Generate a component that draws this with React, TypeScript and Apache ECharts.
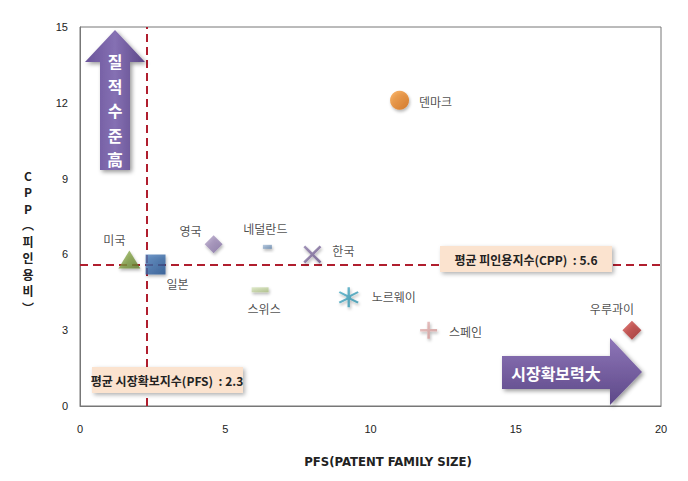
import React, { useEffect, useRef } from "react";
import * as echarts from "echarts";

const countries = ["미국", "일본", "영국", "네덜란드", "스위스", "한국", "노르웨이", "스페인", "우루과이", "덴마크"];
const pfs = [1.7, 2.6, 4.6, 6.45, 6.2, 8.0, 9.25, 12.0, 19.0, 11.0];
const cpp = [5.8, 5.6, 6.4, 6.3, 4.6, 6.0, 4.3, 3.0, 3.0, 12.1];
const meanPFS = 2.3;
const meanCPP = 5.6;
const xTicks = [0, 5, 10, 15, 20];
const yTicks = [0, 3, 6, 9, 12, 15];

const PATH_X = "path://M0,2 L2,0 L10,8 L18,0 L20,2 L12,10 L20,18 L18,20 L10,12 L2,20 L0,18 L8,10 Z";
const PATH_AST = "path://M9,0 L11,0 L11,7.6 L17.5,3.8 L18.5,5.5 L12,9.3 L12,10.7 L18.5,14.5 L17.5,16.2 L11,12.4 L11,20 L9,20 L9,12.4 L2.5,16.2 L1.5,14.5 L8,10.7 L8,9.3 L1.5,5.5 L2.5,3.8 L9,7.6 Z";
const PATH_PLUS = "path://M8.5,0 L11.5,0 L11.5,8.5 L20,8.5 L20,11.5 L11.5,11.5 L11.5,20 L8.5,20 L8.5,11.5 L0,11.5 L0,8.5 L8.5,8.5 Z";

const styles: any[] = [
  { symbol: "triangle", size: [22, 18], color: ["#9BBB59", "#5E7A2A"], off: [-15, -20] },
  { symbol: "rect", size: [20, 20], color: ["#4F81BD", "#1F4E8C"], off: [22, 19] },
  { symbol: "diamond", size: [18, 18], color: ["#B3A2C7", "#7E6A9E"], off: [-23, -14] },
  { symbol: "rect", size: [9, 4], color: ["#A6BDD7", "#5E7FA6"], off: [-2, -18] },
  { symbol: "rect", size: [17, 5], color: ["#D7E4BD", "#A9BC80"], off: [4, 19] },
  { symbol: PATH_X, size: [18, 18], color: ["#8C7AA8", "#6A5688"], off: [31, -4] },
  { symbol: PATH_AST, size: [20, 20], color: ["#4BACC6", "#2D8CA6"], off: [45, -1] },
  { symbol: PATH_PLUS, size: [17, 17], color: ["#E6B9B8", "#C98E8C"], off: [37, 1] },
  { symbol: "diamond", size: [19, 19], color: ["#D9534F", "#962020"], off: [-20, -22] },
  { symbol: "circle", size: [19, 19], color: ["#F9A346", "#D0660A"], off: [36, 1] },
];

const font = '"Noto Sans CJK KR", "Noto Sans", sans-serif';

export default function App() {
  const ref = useRef<HTMLDivElement>(null);
  useEffect(() => {
    if (!ref.current) return;
    const chart = echarts.init(ref.current, null, { renderer: "svg" });
    const purple = new echarts.graphic.LinearGradient(0, 0, 0, 1, [
      { offset: 0, color: "#8E76B8" },
      { offset: 1, color: "#5D4888" },
    ]);
    const purpleV = new echarts.graphic.LinearGradient(0, 0, 1, 0, [
      { offset: 0, color: "#6A549A" },
      { offset: 0.5, color: "#8570B3" },
      { offset: 1, color: "#5D4888" },
    ]);
    const series: any[] = countries.map((name, i) => {
      const s = styles[i];
      return {
        type: "scatter",
        name,
        z: 5,
        symbol: s.symbol,
        symbolSize: s.size,
        itemStyle: {
          color: new echarts.graphic.LinearGradient(0, 0, 1, 1, [
            { offset: 0, color: s.color[0] },
            { offset: 1, color: s.color[1] },
          ]),
          shadowColor: "rgba(0,0,0,0.35)",
          shadowBlur: 3,
          shadowOffsetX: 1,
          shadowOffsetY: 2,
        },
        label: {
          show: true,
          position: "inside",
          offset: s.off,
          formatter: name,
          color: "#222",
          fontSize: 12,
          fontFamily: font,
        },
        data: [[pfs[i], cpp[i]]],
      };
    });
    series.push({
      type: "scatter",
      data: [],
      z: 2,
      markLine: {
        silent: true,
        symbol: "none",
        label: { show: false },
        lineStyle: { color: "#B01E2E", width: 2, type: [8, 5] },
        data: [{ xAxis: meanPFS }, { yAxis: meanCPP }],
      },
    });
    chart.setOption({
      animation: false,
      backgroundColor: "#fff",
      grid: { left: 80, right: 27, top: 27, bottom: 75, show: true, borderColor: "#777", borderWidth: 1, backgroundColor: "transparent" },
      xAxis: {
        type: "value",
        min: xTicks[0],
        max: xTicks[xTicks.length - 1],
        interval: 5,
        axisLine: { show: true, lineStyle: { color: "#777" } },
        axisTick: { show: false },
        splitLine: { show: false },
        axisLabel: { color: "#222", fontSize: 11, margin: 17, fontFamily: "Liberation Sans, Arial, sans-serif" },
      },
      yAxis: {
        type: "value",
        min: yTicks[0],
        max: yTicks[yTicks.length - 1],
        interval: 3,
        axisLine: { show: true, lineStyle: { color: "#777" } },
        axisTick: { show: false },
        splitLine: { show: false },
        axisLabel: { color: "#222", fontSize: 11, margin: 12, fontFamily: "Liberation Sans, Arial, sans-serif" },
      },
      graphic: [
        {
          type: "text",
          x: 388,
          y: 461,
          style: {
            text: "PFS(PATENT FAMILY SIZE)",
            fill: "#222",
            font: 'bold 13px "Liberation Sans Narrow", "DejaVu Sans Condensed", "Liberation Sans", sans-serif',
            align: "center",
            verticalAlign: "middle",
          },
        },
        {
          type: "text",
          x: 28,
          y: 167,
          style: {
            text: ["C", "P", "P", "︵", "피", "인", "용", "비", "︶"].join("\n"),
            fill: "#222",
            font: `bold 12px ${font}`,
            lineHeight: 16.5,
            align: "center",
          },
        },
        {
          type: "polygon",
          z: 10,
          shape: { points: [[115, 30], [145, 62], [130, 62], [130, 170], [100, 170], [100, 62], [85, 62]] },
          style: { fill: purpleV, shadowColor: "rgba(0,0,0,0.4)", shadowBlur: 4, shadowOffsetX: 2, shadowOffsetY: 2 },
        },
        {
          type: "text",
          z: 11,
          x: 115,
          y: 49,
          style: {
            text: "질\n적\n수\n준\n高",
            fill: "#fff",
            font: `bold 16px ${font}`,
            lineHeight: 24.5,
            align: "center",
            verticalAlign: "top",
          },
        },
        {
          type: "polygon",
          z: 10,
          shape: { points: [[502, 356], [610, 356], [610, 338], [642, 372], [610, 405], [610, 389], [502, 389]] },
          style: { fill: purple, shadowColor: "rgba(0,0,0,0.4)", shadowBlur: 4, shadowOffsetX: 2, shadowOffsetY: 2 },
        },
        {
          type: "text",
          z: 11,
          x: 556,
          y: 373,
          style: {
            text: "시장확보력大",
            fill: "#fff",
            font: `bold 16px ${font}`,
            align: "center",
            verticalAlign: "middle",
          },
        },
        {
          type: "rect",
          z: 10,
          shape: { x: 440, y: 246, width: 172, height: 26 },
          style: { fill: "#FBE3CF", shadowColor: "rgba(0,0,0,0.3)", shadowBlur: 4, shadowOffsetX: 2, shadowOffsetY: 2 },
        },
        {
          type: "text",
          z: 11,
          x: 526,
          y: 259,
          style: {
            text: "평균 피인용지수(CPP)  : 5.6",
            fill: "#222",
            font: `bold 12px ${font}`,
            align: "center",
            verticalAlign: "middle",
          },
        },
        {
          type: "rect",
          z: 10,
          shape: { x: 92, y: 367, width: 151, height: 26 },
          style: { fill: "#FBE3CF", shadowColor: "rgba(0,0,0,0.3)", shadowBlur: 4, shadowOffsetX: 2, shadowOffsetY: 2 },
        },
        {
          type: "text",
          z: 11,
          x: 167,
          y: 380,
          style: {
            text: "평균 시장확보지수(PFS)  : 2.3",
            fill: "#222",
            font: `bold 12px ${font}`,
            align: "center",
            verticalAlign: "middle",
          },
        },
      ],
      series,
    });
    return () => chart.dispose();
  }, []);
  return <div ref={ref} style={{ width: 688, height: 481, position: "absolute", left: 0, top: 0 }} />;
}
